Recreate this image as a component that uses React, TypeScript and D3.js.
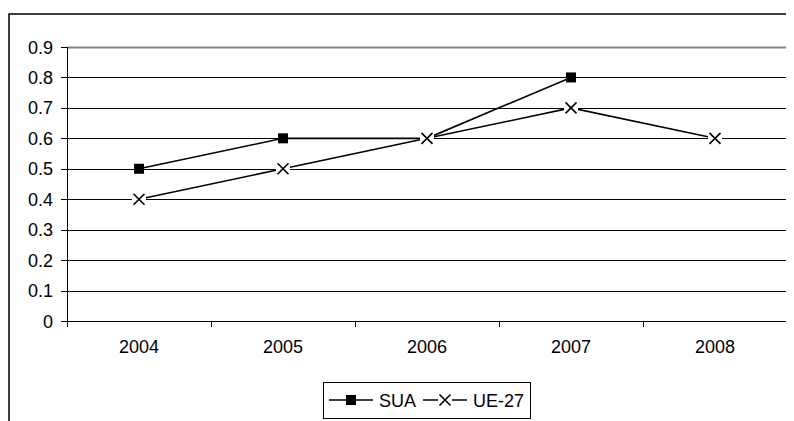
import React, { useEffect } from "react";
import * as d3 from "d3";

const years = ["2004", "2005", "2006", "2007", "2008"];
const suaValues: (number | null)[] = [0.5, 0.6, 0.6, 0.8, null];
const ueValues: (number | null)[] = [0.4, 0.5, 0.6, 0.7, 0.6];
const yTicks = [0, 0.1, 0.2, 0.3, 0.4, 0.5, 0.6, 0.7, 0.8, 0.9];
const seriesNames = ["SUA", "UE-27"];

const W = 786;
const H = 440;
const FONT = "'Liberation Sans', Arial, sans-serif";

export default function App() {
  useEffect(() => {
    document.documentElement.style.overflow = "hidden";
    document.body.style.overflow = "hidden";
  }, []);

  const x = d3.scaleBand<string>().domain(years).range([59, 779]).paddingInner(0).paddingOuter(0);
  const y = d3.scaleLinear().domain([0, 0.9]).range([313, 39]);
  const cx = (d: string) => (x(d) as number) + x.bandwidth() / 2;

  const line = d3
    .line<number | null>()
    .defined((d) => d !== null)
    .x((_, i) => cx(years[i]))
    .y((d) => y(d as number));

  const xBoundaries = [...years.map((d) => x(d) as number), 779];

  const xMarker = (px: number, py: number, key: string) => (
    <g key={key}>
      <rect x={px - 7} y={py - 7} width={14} height={14} fill="#fff" />
      <path
        d={`M${px - 5.5},${py - 5.5}L${px + 5.5},${py + 5.5}M${px + 5.5},${py - 5.5}L${px - 5.5},${py + 5.5}`}
        stroke="#000"
        strokeWidth={1.6}
        fill="none"
      />
    </g>
  );

  const sqMarker = (px: number, py: number, key: string) => (
    <rect key={key} x={px - 5} y={py - 5} width={10} height={10} fill="#000" />
  );

  return (
    <svg width={W} height={H} style={{ display: "block" }} fontFamily={FONT}>
      <rect x={0} y={0} width={W} height={H} fill="#fff" />
      <rect x={1} y={6} width={784} height={H} fill="none" stroke="#000" strokeWidth={1.5} />

      {/* gridlines */}
      {yTicks.slice(1, -1).map((t) => (
        <line key={"g" + t} x1={59} x2={779} y1={Math.round(y(t)) + 0.5} y2={Math.round(y(t)) + 0.5} stroke="#000" strokeWidth={1} />
      ))}
      {/* plot border top/right */}
      <line x1={59} x2={780} y1={39.5} y2={39.5} stroke="#808080" strokeWidth={2} />
      <line x1={779.5} x2={779.5} y1={39} y2={313} stroke="#808080" strokeWidth={2} />

      {/* y axis */}
      <line x1={59.5} x2={59.5} y1={39} y2={314} stroke="#000" strokeWidth={1} />
      {yTicks.map((t) => (
        <g key={"yt" + t}>
          <line x1={53} x2={59} y1={Math.round(y(t)) + 0.5} y2={Math.round(y(t)) + 0.5} stroke="#000" />
          <text x={45} y={y(t) + 6.5} textAnchor="end" fontSize={18} fill="#000">
            {d3.format("")(t)}
          </text>
        </g>
      ))}

      {/* x axis */}
      <line x1={59} x2={779} y1={313.5} y2={313.5} stroke="#000" strokeWidth={1} />
      {xBoundaries.map((b, i) => (
        <line key={"xt" + i} x1={Math.round(b) + 0.5} x2={Math.round(b) + 0.5} y1={313} y2={319} stroke="#000" />
      ))}
      {years.map((yr) => (
        <text key={"xl" + yr} x={cx(yr)} y={345} textAnchor="middle" fontSize={18} fill="#000">
          {yr}
        </text>
      ))}

      {/* SUA */}
      <path d={line(suaValues) || ""} fill="none" stroke="#000" strokeWidth={1.6} />
      {suaValues.map((v, i) => (v === null ? null : sqMarker(cx(years[i]), y(v), "s" + i)))}

      {/* UE-27 */}
      <path d={line(ueValues) || ""} fill="none" stroke="#000" strokeWidth={1.6} />
      {ueValues.map((v, i) => (v === null ? null : xMarker(cx(years[i]), y(v), "u" + i)))}

      {/* legend */}
      <rect x={315.5} y={374.5} width={207} height={36} fill="#fff" stroke="#000" strokeWidth={1} />
      <line x1={321} x2={365} y1={392} y2={392} stroke="#000" strokeWidth={1.6} />
      {sqMarker(343, 392, "ls")}
      <text x={371} y={398.5} fontSize={18} fill="#000">{seriesNames[0]}</text>
      <line x1={415} x2={459} y1={392} y2={392} stroke="#000" strokeWidth={1.6} />
      {xMarker(437, 392, "lu")}
      <text x={465} y={398.5} fontSize={18} fill="#000">{seriesNames[1]}</text>
    </svg>
  );
}
